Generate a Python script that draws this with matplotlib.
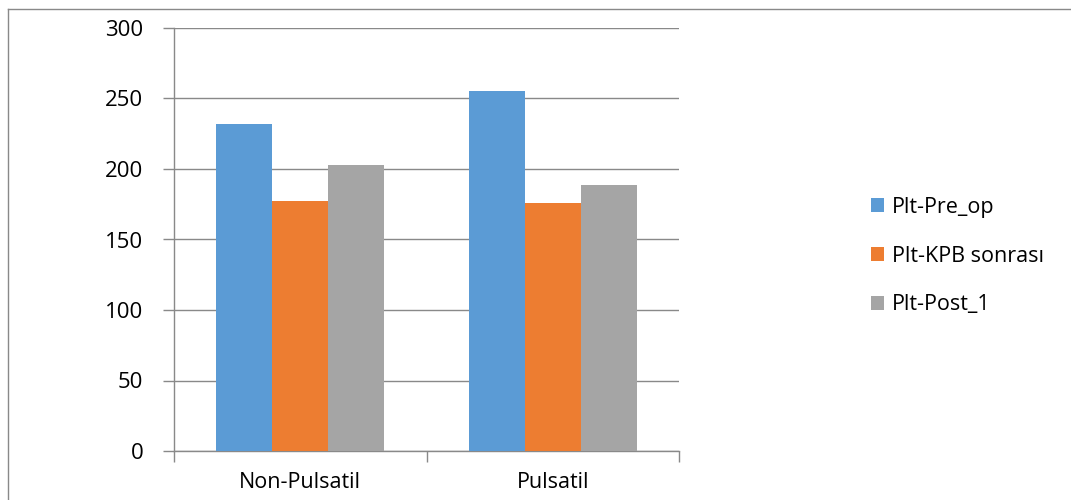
import matplotlib.pyplot as plt
from matplotlib.lines import Line2D
import numpy as np

categories = ['Non-Pulsatil', 'Pulsatil']
series_names = ['Plt-Pre_op', 'Plt-KPB sonrası', 'Plt-Post_1']
pre_op = [232, 255]
kpb_sonrasi = [177, 176]
post_1 = [202.5, 188.5]
colors = ['#5b9bd5', '#ed7d31', '#a5a5a5']

plt.rcParams['font.family'] = ['Open Sans', 'DejaVu Sans']

fig = plt.figure(figsize=(10.71, 5.0), dpi=100)
ax = fig.add_axes([174 / 1071, 1 - 451 / 500, (679 - 174) / 1071, (451 - 28) / 500])

x = np.arange(len(categories))
w = 2 / 9
for i, (vals, name) in enumerate(zip([pre_op, kpb_sonrasi, post_1], series_names)):
    ax.bar(x + (i - 1) * w, vals, width=w, color=colors[i], label=name, zorder=3)

ax.set_xlim(-0.5, 1.5)
ax.set_ylim(0, 300)
ax.set_yticks(range(0, 301, 50))
ax.yaxis.grid(True, color='#898989', linewidth=1, zorder=0)
ax.set_xticks(x)
ax.set_xticklabels(categories)
ax.set_xticks([-0.5, 0.5, 1.5], minor=True)
ax.tick_params(axis='x', which='major', length=0, pad=15, labelsize=15.5)
ax.tick_params(axis='x', which='minor', length=8, color='#898989', width=1)
ax.tick_params(axis='y', length=8, color='#898989', width=1, pad=14, labelsize=16)
for s in ['top', 'right']:
    ax.spines[s].set_visible(False)
for s in ['left', 'bottom']:
    ax.spines[s].set_color('#898989')
    ax.spines[s].set_linewidth(1)

ax.legend(loc='center left', bbox_to_anchor=(852 / 1071, 1 - 256 / 500),
          bbox_transform=fig.transFigure, frameon=False, fontsize=15.5,
          handlelength=0.6, handleheight=0.6, handletextpad=0.35,
          labelspacing=1.3)

# outer chart border
fig.add_artist(Line2D([8 / 1071, 1], [1 - 9 / 500, 1 - 9 / 500],
                      transform=fig.transFigure, color='#898989', linewidth=1))
fig.add_artist(Line2D([8 / 1071, 8 / 1071], [0, 1 - 9 / 500],
                      transform=fig.transFigure, color='#898989', linewidth=1))

fig.savefig('out.png', dpi=100)
